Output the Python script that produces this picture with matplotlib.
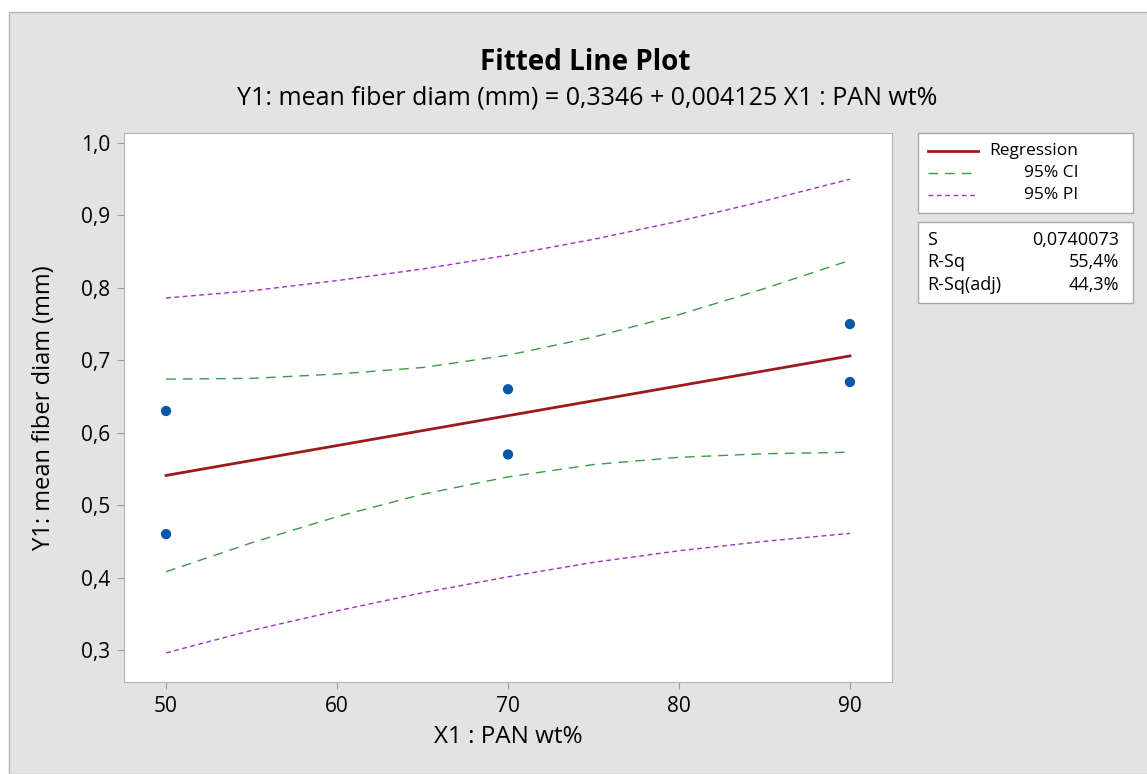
import matplotlib
matplotlib.use("Agg")
import matplotlib.pyplot as plt
from matplotlib.patches import Rectangle

plt.rcParams["font.family"] = ["Open Sans", "DejaVu Sans"]

# observed data
pan_wt = [50, 50, 70, 70, 90, 90]
fiber_diam = [0.63, 0.46, 0.66, 0.57, 0.75, 0.67]

# fitted line (read at the ends)
x_fit = [50, 90]
y_fit = [0.541, 0.706]

# confidence / prediction bands
x_band = [50, 55, 60, 65, 70, 75, 80, 85, 90]
ci_upper = [0.674, 0.675, 0.681, 0.690, 0.707, 0.732, 0.763, 0.799, 0.838]
ci_lower = [0.408, 0.448, 0.484, 0.515, 0.539, 0.556, 0.566, 0.571, 0.573]
pi_upper = [0.786, 0.796, 0.810, 0.826, 0.845, 0.867, 0.892, 0.920, 0.950]
pi_lower = [0.296, 0.327, 0.354, 0.379, 0.401, 0.421, 0.437, 0.450, 0.461]

x_ticks = [50, 60, 70, 80, 90]
y_ticks = [0.3, 0.4, 0.5, 0.6, 0.7, 0.8, 0.9, 1.0]

stats_names = ["S", "R-Sq", "R-Sq(adj)"]
stats_values = ["0,0740073", "55,4%", "44,3%"]

BG = "#e3e3e3"
EDGE = "#b4b4b4"
RED = "#9b1b1b"
GREEN = "#3c9a46"
PURPLE = "#a030c8"


def fx(px):
    return px / 1147


def fy(py):
    return 1 - py / 774


fig = plt.figure(figsize=(11.47, 7.74), dpi=100)
fig.patch.set_facecolor("white")
fig.add_artist(Rectangle((fx(9), 0), 1, 1 - 12 / 774, transform=fig.transFigure,
                         facecolor=BG, edgecolor=EDGE, lw=1, zorder=-10))

ax = fig.add_axes([fx(124), fy(682), 768 / 1147, 549 / 774])
ax.set_facecolor("white")

ax.plot(x_band, pi_upper, color=PURPLE, lw=1, dashes=(3.5, 2.5))
ax.plot(x_band, pi_lower, color=PURPLE, lw=1, dashes=(3.5, 2.5))
ax.plot(x_band, ci_upper, color=GREEN, lw=1, dashes=(7, 5))
ax.plot(x_band, ci_lower, color=GREEN, lw=1, dashes=(7, 5))
ax.plot(x_fit, y_fit, color=RED, lw=2)
ax.scatter(pan_wt, fiber_diam, s=55, color="#0a56a8", zorder=5, edgecolors="none")

ax.set_xlim(47.54, 92.46)
ax.set_ylim(0.2558, 1.0138)
ax.set_xticks(x_ticks)
ax.set_xticklabels([str(v) for v in x_ticks])
ax.set_yticks(y_ticks)
ax.set_yticklabels([f"{v:.1f}".replace(".", ",") for v in y_ticks])
ax.tick_params(direction="out", length=5, color="#999999", labelsize=15, pad=5)
for sp in ax.spines.values():
    sp.set_color(EDGE)

ax.set_xlabel("X1 : PAN wt%", fontsize=17.5)
ax.set_ylabel("Y1: mean fiber diam (mm)", fontsize=17)
ax.xaxis.set_label_coords(0.5, -0.079)
ax.yaxis.set_label_coords(-0.088, 0.5)

fig.text(fx(585), fy(62), "Fitted Line Plot", fontsize=20, fontweight="bold",
         ha="center", va="center")
fig.text(fx(587), fy(98), "Y1: mean fiber diam (mm) = 0,3346 + 0,004125 X1 : PAN wt%",
         fontsize=18, ha="center", va="center")

# legend box
fig.add_artist(Rectangle((fx(918), fy(213)), fx(215), 80 / 774, transform=fig.transFigure,
                         facecolor="white", edgecolor="#a8a8a8", lw=1))
legend_rows = [("Regression", RED, 2, None),
               ("95% CI", GREEN, 1, (7, 5)),
               ("95% PI", PURPLE, 1, (3.5, 2.5))]
for i, (lab, col, lw, ds) in enumerate(legend_rows):
    yy = fy(151 + i * 22)
    line = plt.Line2D([fx(928), fx(978)], [yy, yy], transform=fig.transFigure,
                      color=col, lw=lw)
    if ds:
        line.set_dashes(ds)
    fig.add_artist(line)
    fig.text(fx(1078), yy, lab, fontsize=12.5, ha="right", va="center")

# stats box
fig.add_artist(Rectangle((fx(918), fy(303)), fx(215), 81 / 774, transform=fig.transFigure,
                         facecolor="white", edgecolor="#a8a8a8", lw=1))
for i, (nm, val) in enumerate(zip(stats_names, stats_values)):
    yy = fy(240 + i * 22.5)
    fig.text(fx(927), yy, nm, fontsize=13, ha="left", va="center")
    fig.text(fx(1119), yy, val, fontsize=13, ha="right", va="center")

fig.savefig("out.png", dpi=100, facecolor=fig.get_facecolor())
